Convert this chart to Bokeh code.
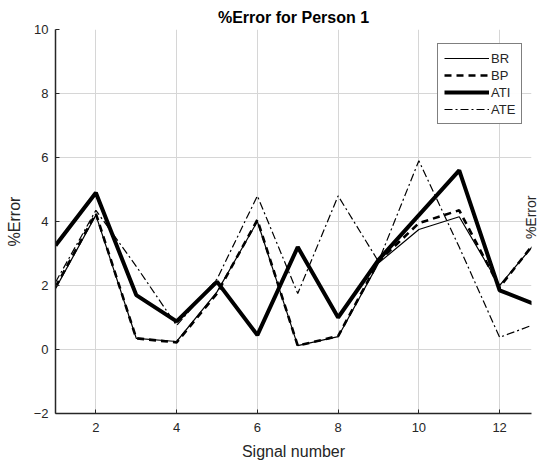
import math
from bokeh.plotting import figure
from bokeh.models import Range1d, FixedTicker, Legend, LegendItem, LinearAxis
from bokeh.embed import file_html
from bokeh.resources import INLINE

signal = [1, 2, 3, 4, 5, 6, 7, 8, 9, 10, 11, 12, 13]
br = [1.9, 4.2, 0.35, 0.25, 1.8, 4.0, 0.12, 0.4, 2.7, 3.75, 4.15, 2.0, 3.5]
bp = [1.95, 4.25, 0.35, 0.22, 1.75, 4.05, 0.12, 0.42, 2.75, 3.95, 4.35, 1.95, 3.55]
ati = [3.25, 4.9, 1.7, 0.88, 2.12, 0.45, 3.2, 1.0, 2.8, 4.2, 5.6, 1.85, 1.35]
ate = [2.1, 4.35, 2.6, 0.75, 2.2, 4.8, 1.75, 4.8, 2.75, 5.9, 3.2, 0.38, 0.85]
x_ticks = [2, 4, 6, 8, 10, 12]
y_ticks = [-2, 0, 2, 4, 6, 8, 10]
side_label_pos = 3.45
side_label = "%Error"

FONT = "Liberation Sans"
DARK = "#262626"

p = figure(width=550, height=463, output_backend="svg", toolbar_location=None,
           x_range=Range1d(1, 12.79), y_range=Range1d(-2, 10),
           min_border_left=55, min_border_right=18, min_border_top=29, min_border_bottom=50,
           title="%Error for Person 1")
p.outline_line_color = None
p.background_fill_color = "white"

p.title.text_font = FONT
p.title.text_font_size = "16px"
p.title.text_font_style = "bold"
p.title.align = "center"
p.title.text_color = "#000000"
p.title.standoff = 7

for ax in (p.xaxis[0], p.yaxis[0]):
    ax.axis_line_color = DARK
    ax.axis_line_width = 1.5
    ax.major_tick_in = 4
    ax.major_tick_out = 0
    ax.minor_tick_in = 0
    ax.minor_tick_out = 0
    ax.major_tick_line_color = DARK
    ax.major_label_text_font = FONT
    ax.major_label_text_font_size = "13px"
    ax.major_label_text_color = DARK
    ax.axis_label_text_font = FONT
    ax.axis_label_text_font_size = "16px"
    ax.axis_label_text_font_style = "normal"
    ax.axis_label_text_color = DARK

p.xaxis[0].ticker = FixedTicker(ticks=x_ticks)
p.yaxis[0].ticker = FixedTicker(ticks=y_ticks)
p.xaxis[0].axis_label = "Signal number"
p.yaxis[0].axis_label = "%Error"
p.xaxis[0].major_label_standoff = 9
p.xaxis[0].axis_label_standoff = 8
p.yaxis[0].major_label_standoff = 7
p.yaxis[0].axis_label_standoff = 8

# y label of the neighbouring panel at the right edge, reading bottom to top
side = LinearAxis(ticker=FixedTicker(ticks=[side_label_pos]),
                  major_label_overrides={side_label_pos: side_label})
side.axis_line_color = None
side.major_tick_line_color = None
side.minor_tick_line_color = None
side.major_tick_in = 0
side.major_tick_out = 0
side.major_label_orientation = math.pi / 2
side.major_label_standoff = 0
side.major_label_text_font = FONT
side.major_label_text_font_size = "14px"
side.major_label_text_color = DARK
p.add_layout(side, "right")

p.xgrid.ticker = FixedTicker(ticks=x_ticks)
p.ygrid.ticker = FixedTicker(ticks=y_ticks)
p.grid.grid_line_color = "#d6d6d6"
p.grid.grid_line_width = 1

r_br = p.line(signal, br, line_color="black", line_width=1.2)
r_bp = p.line(signal, bp, line_color="black", line_width=2.6, line_dash="7 5")
r_ati = p.line(signal, ati, line_color="black", line_width=4)
r_ate = p.line(signal, ate, line_color="black", line_width=1.2, line_dash="8 3 2 3")

legend = Legend(items=[LegendItem(label="BR", renderers=[r_br]),
                       LegendItem(label="BP", renderers=[r_bp]),
                       LegendItem(label="ATI", renderers=[r_ati]),
                       LegendItem(label="ATE", renderers=[r_ate])],
                location=(382, 289))
legend.border_line_color = "black"
legend.border_line_width = 1.2
legend.background_fill_color = "white"
legend.label_text_font = FONT
legend.label_text_font_size = "13px"
legend.label_text_color = DARK
legend.glyph_width = 45
legend.glyph_height = 16
legend.label_height = 16
legend.label_standoff = 2
legend.spacing = 1
legend.padding = 6
legend.margin = 0
p.add_layout(legend, "center")

open("out.html", "w").write(file_html(p, INLINE))
